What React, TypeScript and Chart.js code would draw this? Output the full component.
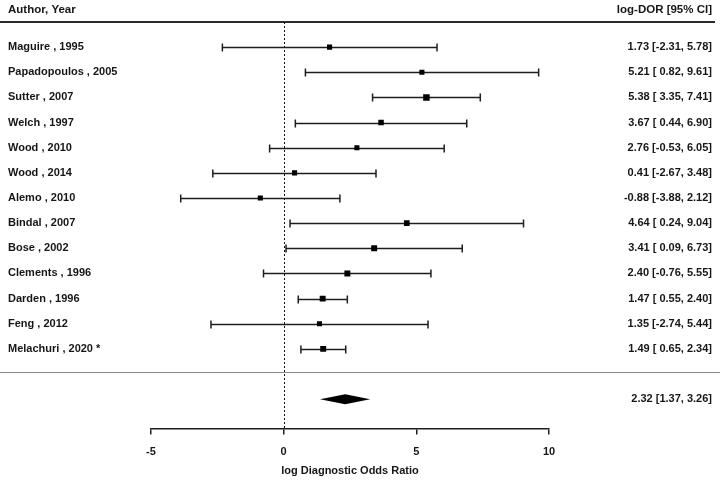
import React, { useEffect, useRef } from "react";
import { Chart, registerables } from "chart.js";

Chart.register(...registerables);

const studies = [
  "Maguire , 1995",
  "Papadopoulos , 2005",
  "Sutter , 2007",
  "Welch , 1997",
  "Wood , 2010",
  "Wood , 2014",
  "Alemo , 2010",
  "Bindal , 2007",
  "Bose , 2002",
  "Clements , 1996",
  "Darden , 1996",
  "Feng , 2012",
  "Melachuri , 2020 *",
];
const estimates = [1.73, 5.21, 5.38, 3.67, 2.76, 0.41, -0.88, 4.64, 3.41, 2.4, 1.47, 1.35, 1.49];
const lowers = [-2.31, 0.82, 3.35, 0.44, -0.53, -2.67, -3.88, 0.24, 0.09, -0.76, 0.55, -2.74, 0.65];
const uppers = [5.78, 9.61, 7.41, 6.9, 6.05, 3.48, 2.12, 9.04, 6.73, 5.55, 2.4, 5.44, 2.34];
const pooled = [2.32, 1.37, 3.26];
const xTicks = [-5, 0, 5, 10];
const headerLeft = "Author, Year";
const headerRight = "log-DOR [95% CI]";
const axisTitle = "log Diagnostic Odds Ratio";

// marker radii (style)
const markerRadius = [3.6, 3.6, 4.6, 3.9, 3.6, 3.6, 3.6, 4.0, 4.2, 4.2, 4.2, 3.6, 4.2];

const FONT = "'Liberation Sans', Arial, Helvetica, sans-serif";
const INK = "#161616";

function fmtCI(e: number, lo: number, hi: number, pad: boolean) {
  const l = lo.toFixed(2);
  return `${e.toFixed(2)} [${pad && lo >= 0 ? " " : ""}${l}, ${hi.toFixed(2)}]`;
}

const forestPlugin = {
  id: "forest",
  beforeDatasetsDraw(chart: any) {
    const { ctx, chartArea, scales } = chart;
    const xs = scales.x;
    const ys = scales.y;
    const W = chart.width;
    ctx.save();

    // header texts
    ctx.fillStyle = INK;
    ctx.font = `bold 11.5px ${FONT}`;
    ctx.textBaseline = "middle";
    ctx.textAlign = "left";
    ctx.fillText(headerLeft, 8, 10);
    ctx.textAlign = "right";
    ctx.fillText(headerRight, 712, 10);

    // header rule
    ctx.strokeStyle = "#2a2a2a";
    ctx.lineWidth = 2;
    ctx.beginPath();
    ctx.moveTo(0, ys.getPixelForValue(-1));
    ctx.lineTo(715, ys.getPixelForValue(-1));
    ctx.stroke();

    // separator rule
    ctx.strokeStyle = "#8a8a8a";
    ctx.lineWidth = 1;
    const sepY = Math.round(ys.getPixelForValue(12.9)) + 0.5;
    ctx.beginPath();
    ctx.moveTo(0, sepY);
    ctx.lineTo(W, sepY);
    ctx.stroke();

    // dotted zero line
    const x0 = Math.round(xs.getPixelForValue(0)) + 0.5;
    ctx.strokeStyle = "#111";
    ctx.lineWidth = 1;
    ctx.setLineDash([2, 2]);
    ctx.beginPath();
    ctx.moveTo(x0, chartArea.top);
    ctx.lineTo(x0, chartArea.bottom);
    ctx.stroke();
    ctx.setLineDash([]);

    // error bars
    ctx.strokeStyle = "#1e1e1e";
    ctx.lineWidth = 1.5;
    studies.forEach((_, i) => {
      const y = Math.round(ys.getPixelForValue(i)) + 0.5;
      const xl = xs.getPixelForValue(lowers[i]);
      const xh = xs.getPixelForValue(uppers[i]);
      ctx.beginPath();
      ctx.moveTo(xl, y);
      ctx.lineTo(xh, y);
      ctx.moveTo(xl, y - 4);
      ctx.lineTo(xl, y + 4);
      ctx.moveTo(xh, y - 4);
      ctx.lineTo(xh, y + 4);
      ctx.stroke();
    });

    // labels
    ctx.fillStyle = INK;
    ctx.font = `bold 11px ${FONT}`;
    ctx.textBaseline = "middle";
    studies.forEach((name, i) => {
      const y = ys.getPixelForValue(i);
      ctx.textAlign = "left";
      ctx.fillText(name, 8, y);
      ctx.textAlign = "right";
      ctx.fillText(fmtCI(estimates[i], lowers[i], uppers[i], true), 712, y);
    });

    // pooled diamond
    const dy = ys.getPixelForValue(studies.length + 1);
    ctx.fillStyle = "#000";
    ctx.beginPath();
    ctx.moveTo(xs.getPixelForValue(pooled[1]), dy);
    ctx.lineTo(xs.getPixelForValue(pooled[0]), dy - 5);
    ctx.lineTo(xs.getPixelForValue(pooled[2]), dy);
    ctx.lineTo(xs.getPixelForValue(pooled[0]), dy + 5);
    ctx.closePath();
    ctx.fill();
    ctx.fillStyle = INK;
    ctx.textAlign = "right";
    ctx.fillText(fmtCI(pooled[0], pooled[1], pooled[2], false), 712, dy);

    ctx.restore();
  },
};

export default function App() {
  const ref = useRef<HTMLCanvasElement | null>(null);
  useEffect(() => {
    if (!ref.current) return;
    const chart = new Chart(ref.current, {
      type: "scatter",
      data: {
        datasets: [
          {
            data: estimates.map((e, i) => ({ x: e, y: i })),
            pointStyle: "rect",
            pointRadius: markerRadius,
            backgroundColor: "#000",
            borderColor: "#000",
            borderWidth: 0,
          },
        ],
      },
      options: {
        animation: false,
        responsive: true,
        maintainAspectRatio: false,
        layout: { padding: { top: 22, left: 151, right: 171, bottom: 0 } },
        plugins: { legend: { display: false }, tooltip: { enabled: false } },
        scales: {
          x: {
            type: "linear",
            min: -5,
            max: 10,
            afterBuildTicks: (s: any) => {
              s.ticks = xTicks.map((v) => ({ value: v }));
            },
            grid: { drawOnChartArea: false, drawTicks: true, tickLength: 6, color: "#1e1e1e", lineWidth: 1.5 },
            border: { display: true, color: "#1e1e1e", width: 1.5 },
            ticks: { color: INK, font: { family: FONT, size: 11, weight: "bold" }, padding: 11, maxRotation: 0 },
            title: {
              display: true,
              text: axisTitle,
              color: INK,
              font: { family: FONT, size: 11, weight: "bold" },
              padding: { top: -5, bottom: 2 },
            },
          },
          y: {
            type: "linear",
            reverse: true,
            min: -1,
            max: 15.17,
            display: false,
          },
        },
      },
      plugins: [forestPlugin],
    });
    return () => chart.destroy();
  }, []);
  return (
    <div style={{ position: "absolute", left: 0, top: 0, width: 720, height: 480, background: "#fff" }}>
      <canvas ref={ref} />
    </div>
  );
}
